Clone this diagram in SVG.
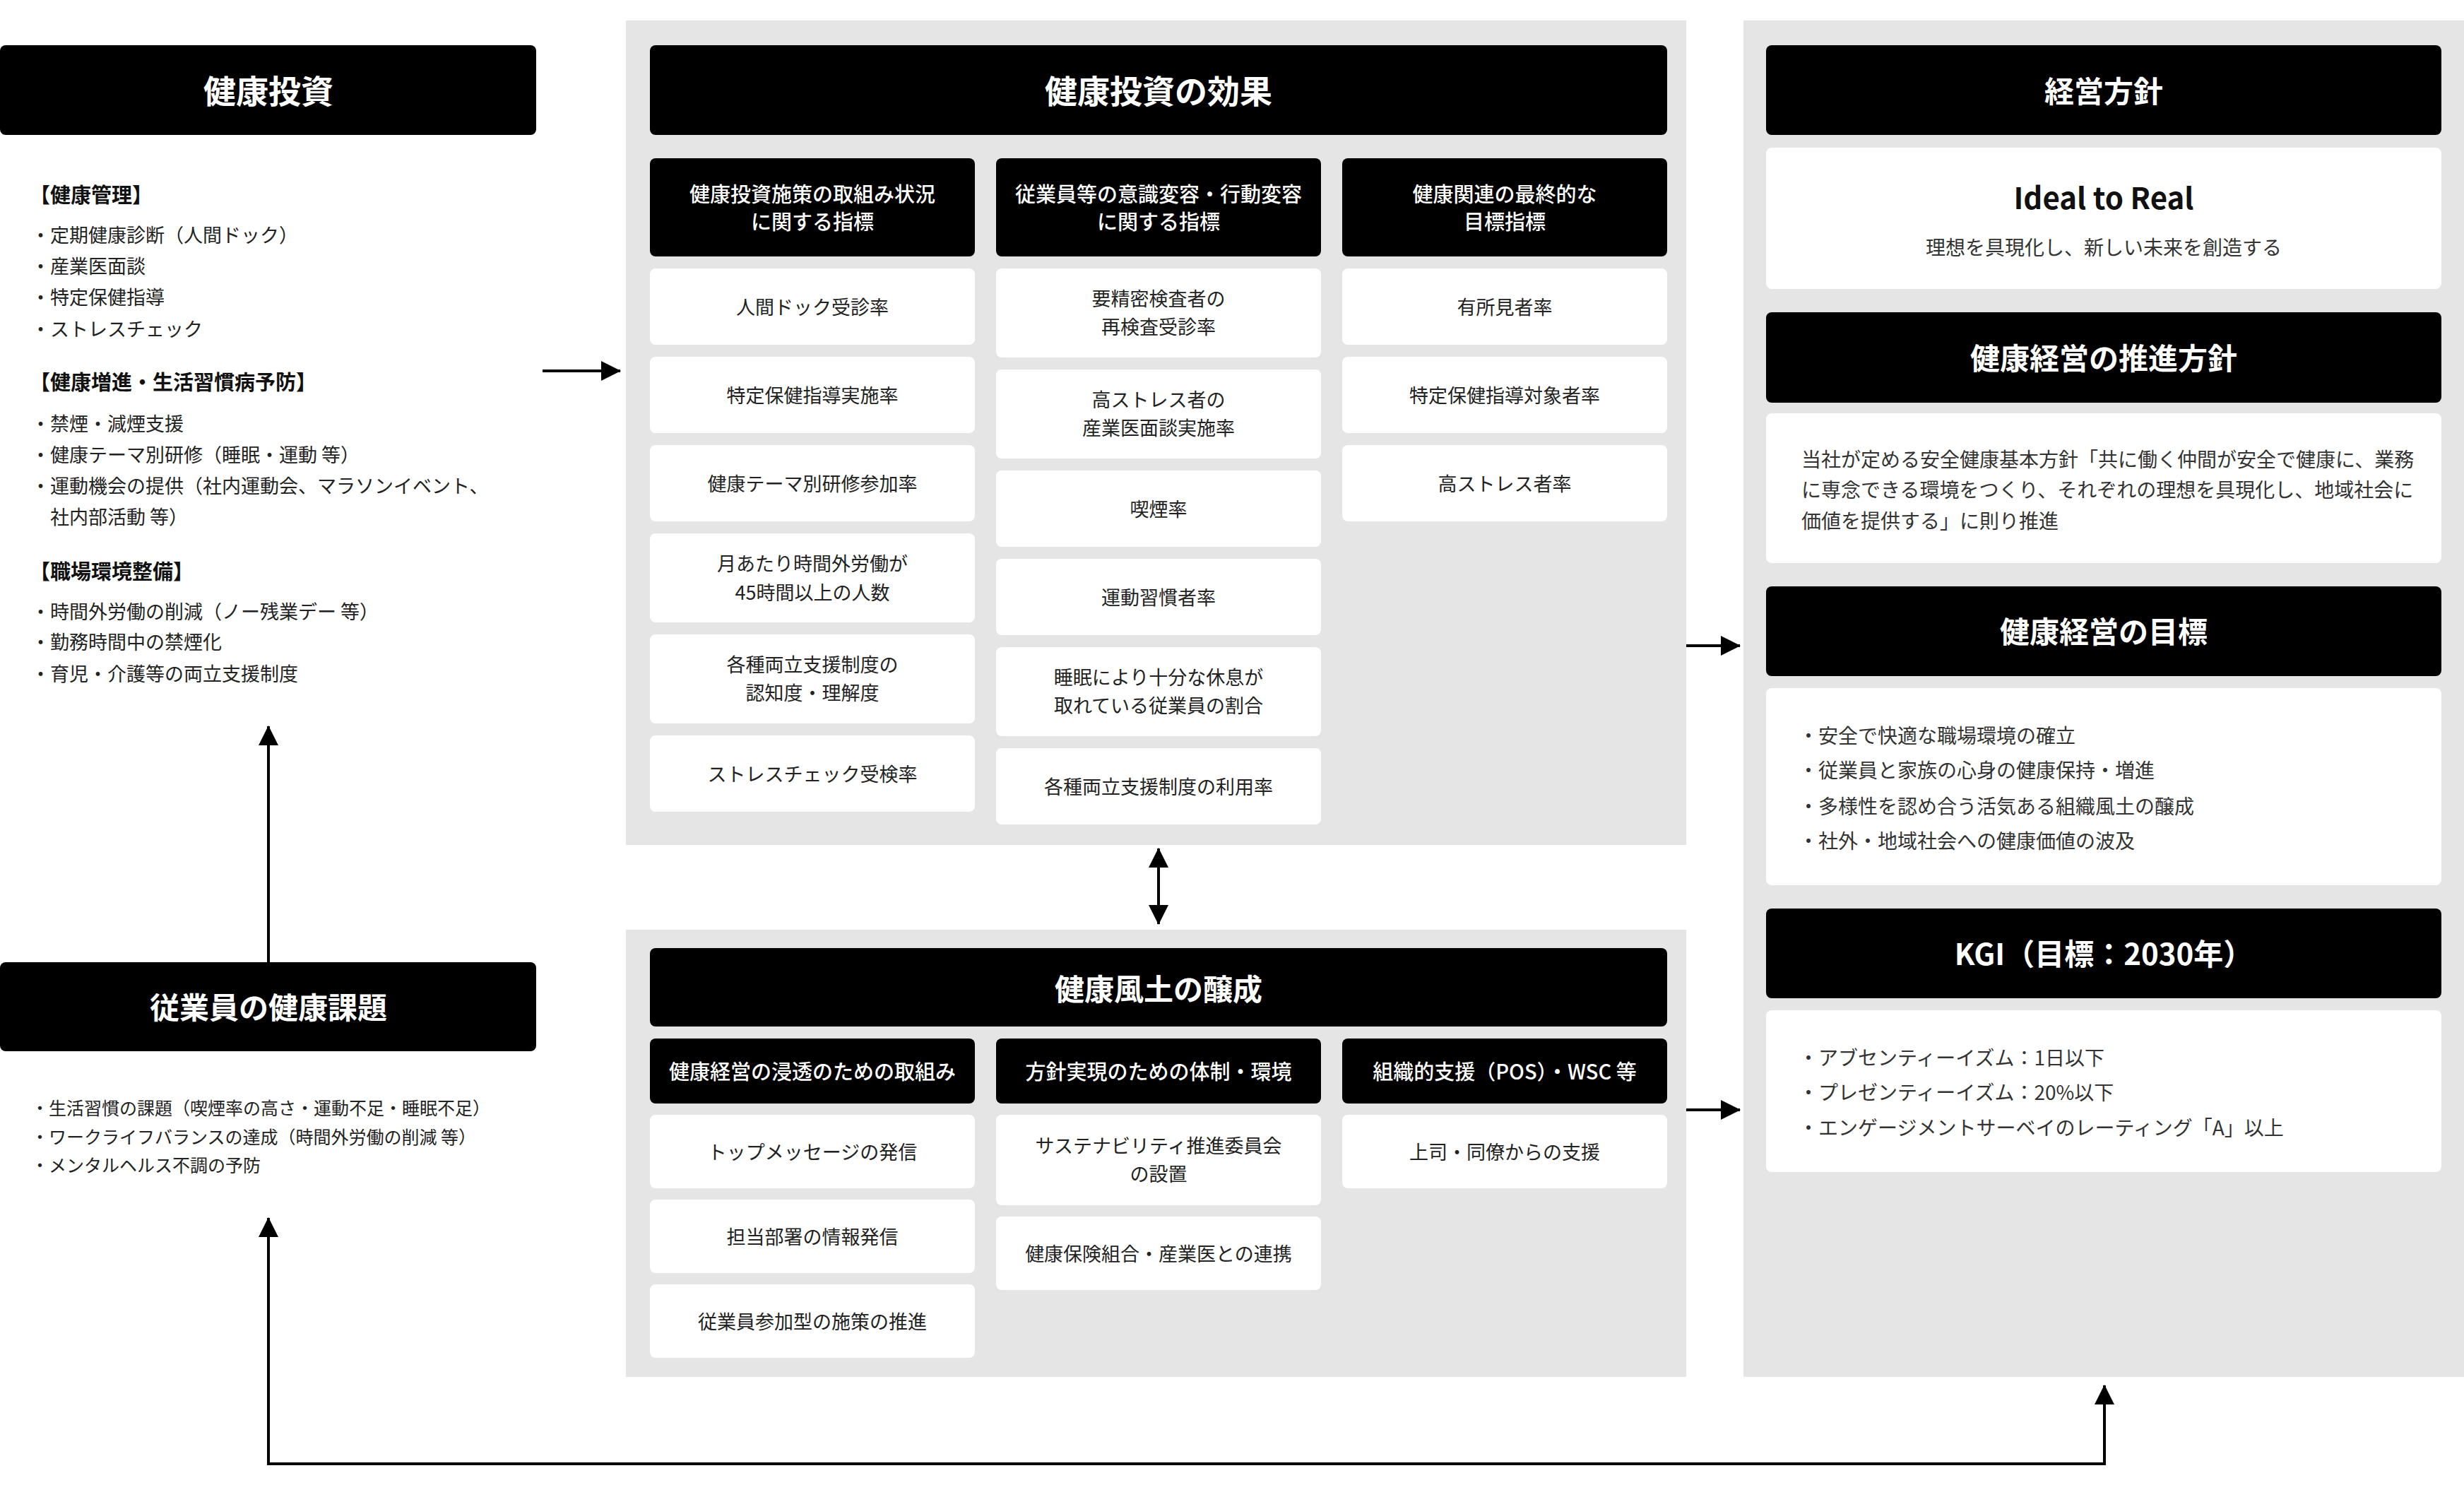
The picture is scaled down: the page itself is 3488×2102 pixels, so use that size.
<svg xmlns="http://www.w3.org/2000/svg" width="3488" height="2102" viewBox="0 0 3488 2102">
<style>
text{font-family:"Noto Sans CJK JP","Noto Sans CJK SC","Noto Sans",sans-serif}
.panel{fill:#e5e5e5}
.hd{fill:#000}
.cell{fill:#fff}
.th{font-size:42px;font-weight:700;fill:#fff;text-anchor:middle}
.thl{font-size:46px}
.ts{font-size:29px;font-weight:500;fill:#fff;text-anchor:middle}
.tc{font-size:27px;fill:#222;text-anchor:middle}
.lh{font-size:29px;font-weight:700;fill:#111}
.li{font-size:27px;fill:#222}
.lb{font-size:25px;fill:#222}
.rt{font-size:28px;fill:#333}
.conn{stroke:#000;stroke-width:4;fill:none}
</style>
<defs>
<marker id="ah" markerUnits="userSpaceOnUse" viewBox="0 0 28 28" markerWidth="28" markerHeight="28" refX="27" refY="14" orient="auto-start-reverse">
<path d="M0,0 L28,14 L0,28 Z" fill="#000"/>
</marker>
</defs>
<rect width="3488" height="2102" fill="#fff"/>

<!-- Left column -->
<g id="kenko-toshi">
<rect class="hd" x="0" y="64" width="759" height="127" rx="8"/>
<text class="th thl" x="380" y="146">健康投資</text>
<text class="lh" x="42" y="287">【健康管理】</text>
<text class="li" x="44" y="343">・定期健康診断（人間ドック）</text>
<text class="li" x="44" y="387">・産業医面談</text>
<text class="li" x="44" y="431">・特定保健指導</text>
<text class="li" x="44" y="476">・ストレスチェック</text>
<text class="lh" x="42" y="552">【健康増進・生活習慣病予防】</text>
<text class="li" x="44" y="610">・禁煙・減煙支援</text>
<text class="li" x="44" y="654">・健康テーマ別研修（睡眠・運動 等）</text>
<text class="li" x="44" y="698">・運動機会の提供（社内運動会、マラソンイベント、</text>
<text class="li" x="71" y="742">社内部活動 等）</text>
<text class="lh" x="42" y="820">【職場環境整備】</text>
<text class="li" x="44" y="876">・時間外労働の削減（ノー残業デー 等）</text>
<text class="li" x="44" y="919">・勤務時間中の禁煙化</text>
<text class="li" x="44" y="964">・育児・介護等の両立支援制度</text>
</g>

<g id="jugyoin-kadai">
<rect class="hd" x="0" y="1362" width="759" height="126" rx="8"/>
<text class="th" x="380" y="1442">従業員の健康課題</text>
<text class="lb" x="44" y="1578">・生活習慣の課題（喫煙率の高さ・運動不足・睡眠不足）</text>
<text class="lb" x="44" y="1619">・ワークライフバランスの達成（時間外労働の削減 等）</text>
<text class="lb" x="44" y="1659">・メンタルヘルス不調の予防</text>
</g>

<!-- Middle upper panel -->
<g id="toshi-koka">
<rect class="panel" x="886" y="29" width="1501" height="1167"/>
<rect class="hd" x="920" y="64" width="1440" height="127" rx="8"/>
<text class="th thl" x="1640" y="146">健康投資の効果</text>

<rect class="hd" x="920" y="224" width="460" height="139" rx="8"/>
<text class="ts" x="1150" y="286">健康投資施策の取組み状況</text>
<text class="ts" x="1150" y="325">に関する指標</text>
<rect class="hd" x="1410" y="224" width="460" height="139" rx="8"/>
<text class="ts" x="1640" y="286">従業員等の意識変容・行動変容</text>
<text class="ts" x="1640" y="325">に関する指標</text>
<rect class="hd" x="1900" y="224" width="460" height="139" rx="8"/>
<text class="ts" x="2130" y="286">健康関連の最終的な</text>
<text class="ts" x="2130" y="325">目標指標</text>

<rect class="cell" x="920" y="380" width="460" height="108" rx="8"/>
<text class="tc" x="1150" y="445">人間ドック受診率</text>
<rect class="cell" x="920" y="505" width="460" height="108" rx="8"/>
<text class="tc" x="1150" y="570">特定保健指導実施率</text>
<rect class="cell" x="920" y="630" width="460" height="108" rx="8"/>
<text class="tc" x="1150" y="695">健康テーマ別研修参加率</text>
<rect class="cell" x="920" y="755" width="460" height="126" rx="8"/>
<text class="tc" x="1150" y="808">月あたり時間外労働が</text>
<text class="tc" x="1150" y="849">45時間以上の人数</text>
<rect class="cell" x="920" y="898" width="460" height="126" rx="8"/>
<text class="tc" x="1150" y="951">各種両立支援制度の</text>
<text class="tc" x="1150" y="991">認知度・理解度</text>
<rect class="cell" x="920" y="1041" width="460" height="108" rx="8"/>
<text class="tc" x="1150" y="1106">ストレスチェック受検率</text>

<rect class="cell" x="1410" y="380" width="460" height="126" rx="8"/>
<text class="tc" x="1640" y="433">要精密検査者の</text>
<text class="tc" x="1640" y="473">再検査受診率</text>
<rect class="cell" x="1410" y="523" width="460" height="126" rx="8"/>
<text class="tc" x="1640" y="576">高ストレス者の</text>
<text class="tc" x="1640" y="616">産業医面談実施率</text>
<rect class="cell" x="1410" y="666" width="460" height="108" rx="8"/>
<text class="tc" x="1640" y="731">喫煙率</text>
<rect class="cell" x="1410" y="791" width="460" height="108" rx="8"/>
<text class="tc" x="1640" y="856">運動習慣者率</text>
<rect class="cell" x="1410" y="916" width="460" height="126" rx="8"/>
<text class="tc" x="1640" y="969">睡眠により十分な休息が</text>
<text class="tc" x="1640" y="1009">取れている従業員の割合</text>
<rect class="cell" x="1410" y="1059" width="460" height="108" rx="8"/>
<text class="tc" x="1640" y="1124">各種両立支援制度の利用率</text>

<rect class="cell" x="1900" y="380" width="460" height="108" rx="8"/>
<text class="tc" x="2130" y="445">有所見者率</text>
<rect class="cell" x="1900" y="505" width="460" height="108" rx="8"/>
<text class="tc" x="2130" y="570">特定保健指導対象者率</text>
<rect class="cell" x="1900" y="630" width="460" height="108" rx="8"/>
<text class="tc" x="2130" y="695">高ストレス者率</text>
</g>

<!-- Middle lower panel -->
<g id="fudo-josei">
<rect class="panel" x="886" y="1316" width="1501" height="633"/>
<rect class="hd" x="920" y="1342" width="1440" height="111" rx="8"/>
<text class="th" x="1640" y="1416">健康風土の醸成</text>

<rect class="hd" x="920" y="1470" width="460" height="92" rx="8"/>
<text class="ts" x="1150" y="1528">健康経営の浸透のための取組み</text>
<rect class="hd" x="1410" y="1470" width="460" height="92" rx="8"/>
<text class="ts" x="1640" y="1528">方針実現のための体制・環境</text>
<rect class="hd" x="1900" y="1470" width="460" height="92" rx="8"/>
<text class="ts" x="2130" y="1528">組織的支援（POS）・WSC 等</text>

<rect class="cell" x="920" y="1578" width="460" height="104" rx="8"/>
<text class="tc" x="1150" y="1641">トップメッセージの発信</text>
<rect class="cell" x="920" y="1698" width="460" height="104" rx="8"/>
<text class="tc" x="1150" y="1761">担当部署の情報発信</text>
<rect class="cell" x="920" y="1818" width="460" height="104" rx="8"/>
<text class="tc" x="1150" y="1881">従業員参加型の施策の推進</text>

<rect class="cell" x="1410" y="1578" width="460" height="128" rx="8"/>
<text class="tc" x="1640" y="1632">サステナビリティ推進委員会</text>
<text class="tc" x="1640" y="1672">の設置</text>
<rect class="cell" x="1410" y="1722" width="460" height="104" rx="8"/>
<text class="tc" x="1640" y="1785">健康保険組合・産業医との連携</text>

<rect class="cell" x="1900" y="1578" width="460" height="104" rx="8"/>
<text class="tc" x="2130" y="1641">上司・同僚からの支援</text>
</g>

<!-- Right panel -->
<g id="keiei">
<rect class="panel" x="2468" y="29" width="1020" height="1920"/>
</g>
<g id="keiei-hoshin">
<rect class="hd" x="2500" y="64" width="956" height="127" rx="8"/>
<text class="th" x="2978" y="145">経営方針</text>
<rect class="cell" x="2500" y="209" width="956" height="200" rx="8"/>
<text x="2978" y="296" style="font-size:42px;font-weight:700;fill:#111;text-anchor:middle">Ideal to Real</text>
<text class="rt" x="2978" y="361" text-anchor="middle">理想を具現化し、新しい未来を創造する</text>
</g>
<g id="suishin-hoshin">
<rect class="hd" x="2500" y="442" width="956" height="128" rx="8"/>
<text class="th" x="2978" y="523">健康経営の推進方針</text>
<rect class="cell" x="2500" y="585" width="956" height="212" rx="8"/>
<text class="rt" x="2550" y="661">当社が定める安全健康基本方針「共に働く仲間が安全で健康に、業務</text>
<text class="rt" x="2550" y="704">に専念できる環境をつくり、それぞれの理想を具現化し、地域社会に</text>
<text class="rt" x="2550" y="748">価値を提供する」に則り推進</text>
</g>
<g id="mokuhyo">
<rect class="hd" x="2500" y="830" width="956" height="127" rx="8"/>
<text class="th" x="2978" y="910">健康経営の目標</text>
<rect class="cell" x="2500" y="974" width="956" height="279" rx="8"/>
<text class="rt" x="2546" y="1052">・安全で快適な職場環境の確立</text>
<text class="rt" x="2546" y="1101">・従業員と家族の心身の健康保持・増進</text>
<text class="rt" x="2546" y="1152">・多様性を認め合う活気ある組織風土の醸成</text>
<text class="rt" x="2546" y="1201">・社外・地域社会への健康価値の波及</text>
</g>
<g id="kgi">
<rect class="hd" x="2500" y="1286" width="956" height="127" rx="8"/>
<text class="th" x="2978" y="1366">KGI（目標：2030年）</text>
<rect class="cell" x="2500" y="1430" width="956" height="229" rx="8"/>
<text class="rt" x="2546" y="1508">・アブセンティーイズム：1日以下</text>
<text class="rt" x="2546" y="1557">・プレゼンティーイズム：20%以下</text>
<text class="rt" x="2546" y="1607">・エンゲージメントサーベイのレーティング「A」以上</text>
</g>

<!-- Connectors -->
<g id="connectors">
<path class="conn" d="M768,525 L878,525" marker-end="url(#ah)"/>
<path class="conn" d="M380,1362 L380,1028" marker-end="url(#ah)"/>
<path class="conn" d="M380,1724 L380,2072 L2979,2072 L2979,1961" marker-start="url(#ah)" marker-end="url(#ah)"/>
<path class="conn" d="M1640,1201 L1640,1308" marker-start="url(#ah)" marker-end="url(#ah)"/>
<path class="conn" d="M2387,914 L2463,914" marker-end="url(#ah)"/>
<path class="conn" d="M2387,1571 L2463,1571" marker-end="url(#ah)"/>
</g>
</svg>
